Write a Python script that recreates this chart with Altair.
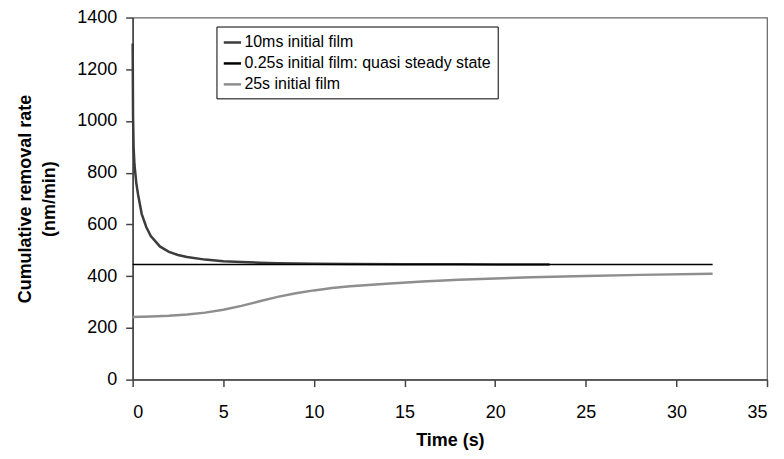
import altair as alt
import pandas as pd

# 10ms initial film
t_10ms = [0.0, 0.02, 0.05, 0.1, 0.2, 0.3, 0.5, 0.75, 1.0, 1.5, 2.0, 2.5, 3.0, 4.0, 5.0, 6.0, 7.0, 8.0, 10.0, 12.0, 15.0, 18.0, 20.0, 23.0]
v_10ms = [1300, 1020, 900, 830, 760, 715, 640, 590, 555, 515, 494, 482, 474, 464, 458, 455, 452, 450, 448, 447, 446, 446, 445, 445]

# 0.25s initial film: quasi steady state
t_qss = [0.0, 32.0]
v_qss = [445, 445]

# 25s initial film
t_25s = [0, 1, 2, 3, 4, 5, 6, 7, 8, 9, 10, 11, 12, 14, 16, 18, 20, 22, 25, 28, 32]
v_25s = [242, 244, 247, 252, 259, 270, 285, 303, 320, 334, 345, 354, 361, 371, 379, 386, 391, 396, 401, 405, 409]

series = ["10ms initial film", "0.25s initial film: quasi steady state", "25s initial film"]
colors = ["#3c3c3c", "#000000", "#8e8e8e"]
widths = [2.5, 1.6, 2.5]

rows = []
for name, w, ts, vs in zip(series, widths, [t_10ms, t_qss, t_25s], [v_10ms, v_qss, v_25s]):
    for i, (t, v) in enumerate(zip(ts, vs)):
        rows.append({"series": name, "t": t, "v": v, "order": i, "w": w})
df = pd.DataFrame(rows)

font = "Liberation Sans"

chart = alt.Chart(df).mark_line().encode(
    x=alt.X("t:Q", title="Time (s)",
            scale=alt.Scale(domain=[0, 35], nice=False),
            axis=alt.Axis(values=list(range(0, 36, 5)), grid=False, tickSize=7,
                          labelPadding=17, titlePadding=10)),
    y=alt.Y("v:Q", title=["Cumulative removal rate", "(nm/min)"],
            scale=alt.Scale(domain=[0, 1400], nice=False),
            axis=alt.Axis(values=list(range(0, 1401, 200)), format="d", grid=False, tickSize=7,
                          labelPadding=9, titlePadding=18, titleLineHeight=24)),
    color=alt.Color("series:N", scale=alt.Scale(domain=series, range=colors),
                    sort=series,
                    legend=alt.Legend(title=None, orient="none", legendX=84, legendY=9,
                                      symbolType="stroke", symbolSize=300,
                                      symbolStrokeWidth=2.5,
                                      labelFontSize=16, labelFont=font,
                                      labelColor="#000000",
                                      rowPadding=3, symbolOffset=0,
                                      labelOffset=2,
                                      padding=6, strokeColor="#000000",
                                      fillColor="#ffffff",
                                      labelLimit=400)),
    strokeWidth=alt.StrokeWidth("w:Q", scale=None),
    order="order:Q",
).properties(
    width=636, height=363,
    padding={"left": 8, "top": 0, "right": 8, "bottom": 4},
).configure_axis(
    labelFont=font, titleFont=font, labelFontSize=18, titleFontSize=18,
    labelColor="#000000", titleColor="#000000", domainColor="#444444",
    tickColor="#444444", titleFontWeight="bold", domainWidth=1.5, tickWidth=1.5
).configure_view(stroke="#666666", strokeWidth=1.2)

chart.save("out.html", embed_options={"renderer": "svg", "actions": False})
